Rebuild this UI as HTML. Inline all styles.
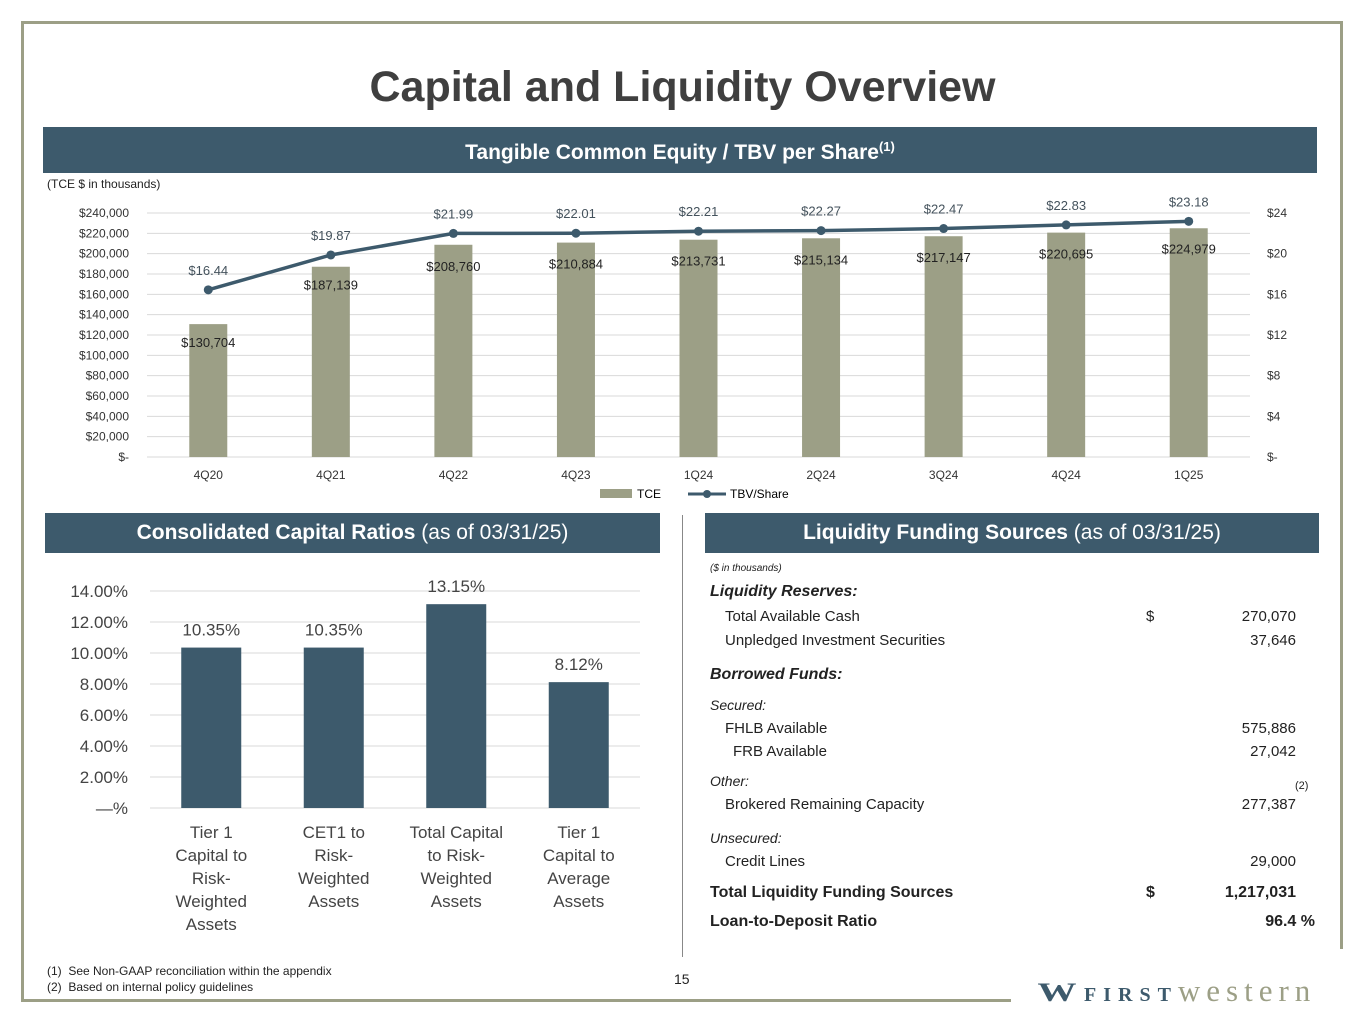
<!DOCTYPE html>
<html><head><meta charset="utf-8"><style>
body{margin:0;width:1365px;height:1024px;background:#fff;position:relative;overflow:hidden;font-family:"Liberation Sans",sans-serif;color:#222}
.a{position:absolute}
.hdr{position:absolute;background:#3d5a6c;color:#fff;font-size:21px;text-align:center;font-weight:bold;line-height:40px}
.hdr span{font-weight:normal}
.r{position:absolute;font-size:15px;white-space:nowrap}
.v{position:absolute;font-size:15px;text-align:right;width:150px;left:1146px}
</style></head><body>
<div class="a" style="left:21px;top:21px;width:1322px;height:3px;background:#9c9f86"></div>
<div class="a" style="left:21px;top:21px;width:3px;height:981px;background:#9c9f86"></div>
<div class="a" style="left:1340px;top:21px;width:3px;height:928px;background:#9c9f86"></div>
<div class="a" style="left:21px;top:999px;width:990px;height:3px;background:#9c9f86"></div>
<div class="a" style="left:0;width:1365px;top:63px;text-align:center;font-size:43px;font-weight:bold;color:#3f3f3f">Capital and Liquidity Overview</div>
<div class="hdr" style="left:43px;top:127px;width:1274px">Tangible Common Equity / TBV per Share<sup style="font-size:13px">(1)</sup></div>
<div class="a" style="left:47px;top:177px;font-size:12px">(TCE $ in thousands)</div>
<svg class="a" style="left:0;top:190px" width="1365" height="320" id="top"></svg>
<div class="hdr" style="left:45px;top:513px;width:615px">Consolidated Capital Ratios <span>(as of 03/31/25)</span></div>
<div class="hdr" style="left:705px;top:513px;width:614px">Liquidity Funding Sources <span>(as of 03/31/25)</span></div>
<div class="a" style="left:682px;top:515px;width:1px;height:442px;background:#888"></div>
<svg class="a" style="left:0;top:570px" width="680" height="380" id="bot"></svg>
<div class="a" style="left:710px;top:563px;font-size:10px;font-style:italic">($ in thousands)</div>
<div class="r" style="left:710px;top:583px;font-weight:bold;font-style:italic;font-size:16px">Liquidity Reserves:</div>
<div class="r" style="left:725px;top:608px">Total Available Cash</div>
<div class="r" style="left:1146px;top:608px">$</div>
<div class="v" style="top:608px">270,070</div>
<div class="r" style="left:725px;top:632px">Unpledged Investment Securities</div>
<div class="v" style="top:632px">37,646</div>
<div class="r" style="left:710px;top:666px;font-weight:bold;font-style:italic;font-size:16px">Borrowed Funds:</div>
<div class="r" style="left:710px;top:697px;font-style:italic;font-size:14px">Secured:</div>
<div class="r" style="left:725px;top:720px">FHLB Available</div>
<div class="v" style="top:720px">575,886</div>
<div class="r" style="left:733px;top:743px">FRB Available</div>
<div class="v" style="top:743px">27,042</div>
<div class="r" style="left:710px;top:773px;font-style:italic;font-size:14px">Other:</div>
<div class="r" style="left:1295px;top:780px;font-size:11px">(2)</div>
<div class="r" style="left:725px;top:796px">Brokered Remaining Capacity</div>
<div class="v" style="top:796px">277,387</div>
<div class="r" style="left:710px;top:830px;font-style:italic;font-size:14px">Unsecured:</div>
<div class="r" style="left:725px;top:853px">Credit Lines</div>
<div class="v" style="top:853px">29,000</div>
<div class="r" style="left:710px;top:884px;font-weight:bold;font-size:16px">Total Liquidity Funding Sources</div>
<div class="r" style="left:1146px;top:884px;font-weight:bold;font-size:16px">$</div>
<div class="v" style="top:884px;font-weight:bold;font-size:16px">1,217,031</div>
<div class="r" style="left:710px;top:913px;font-weight:bold;font-size:16px">Loan-to-Deposit Ratio</div>
<div class="v" style="top:913px;font-weight:bold;font-size:16px;left:1165px">96.4 %</div>
<div class="a" style="left:47px;top:963px;font-size:12px;line-height:16px">(1)&nbsp; See Non-GAAP reconciliation within the appendix<br>(2)&nbsp; Based on internal policy guidelines</div>
<div class="a" style="left:674px;top:971px;font-size:14px">15</div>
<div class="a" style="left:1038px;top:974px;white-space:nowrap;line-height:34px">
<span style="color:#3d5a6c;font-size:26px;font-weight:bold;font-family:'Liberation Serif',serif;display:inline-block;transform:scaleX(1.5);margin-right:14px;margin-left:6px">W</span><span style="color:#3d5a6c;font-size:20px;font-weight:bold;font-family:'Liberation Serif',serif;letter-spacing:7px">FIRST</span><span style="color:#9c9f86;font-size:31px;font-family:'Liberation Serif',serif;letter-spacing:6px">western</span></div>
<script>
const cats=["4Q20","4Q21","4Q22","4Q23","1Q24","2Q24","3Q24","4Q24","1Q25"];
const tce=[130704,187139,208760,210884,213731,215134,217147,220695,224979];
const tbv=[16.44,19.87,21.99,22.01,22.21,22.27,22.47,22.83,23.18];
const leftTicks=[0,20000,40000,60000,80000,100000,120000,140000,160000,180000,200000,220000,240000];
const rightTicks=[0,4,8,12,16,20,24];
const ratioCats=[["Tier 1","Capital to","Risk-","Weighted","Assets"],["CET1 to","Risk-","Weighted","Assets"],["Total Capital","to Risk-","Weighted","Assets"],["Tier 1","Capital to","Average","Assets"]];
const ratios=[10.35,10.35,13.15,8.12];
const ratioTicks=[0,2,4,6,8,10,12,14];
const NS="http://www.w3.org/2000/svg";
function mk(p,t,a,txt){const e=document.createElementNS(NS,t);for(const k in a)e.setAttribute(k,a[k]);if(txt!==undefined)e.textContent=txt;p.appendChild(e);return e;}
const fmt=n=>"$"+n.toLocaleString("en-US");
const T=document.getElementById("top");
const y0=267,y1=23,xL=147,xR=1250;
const yL=v=>y0-(v/240000)*(y0-y1), yR=v=>y0-(v/24)*(y0-y1);
const step=(xR-xL)/cats.length, xc=i=>xL+step*(i+0.5);
leftTicks.forEach(t=>{
 const g=mk(T,"line",{x1:xL,x2:xR,y1:yL(t),y2:yL(t),stroke:"#d9d9d9"});
 
 
 const l=mk(T,"text",{x:129,y:yL(t)+4,"text-anchor":"end","font-size":12,fill:"#333"},t?fmt(t):"$-");
 
 
});
rightTicks.forEach(t=>{
 const l=mk(T,"text",{x:1267,y:yR(t)+4,"font-size":12,fill:"#333"},t?"$"+t:"$-");
 
 
});
cats.forEach((c,i)=>{
 const b=mk(T,"rect",{x:xc(i)-19,y:yL(tce[i]),width:38,height:y0-yL(tce[i]),fill:"#9c9f86"});
 
 
 const l=mk(T,"text",{x:xc(i),y:yL(tce[i])+ (i<2?23:(i===8?25:26)),"text-anchor":"middle","font-size":13,fill:"#222"},fmt(tce[i]));
 
 
 const x=mk(T,"text",{x:xc(i),y:289,"text-anchor":"middle","font-size":12,fill:"#333"},c);
 
 
});
const pl=mk(T,"polyline",{points:tbv.map((v,i)=>xc(i)+","+yR(v)).join(" "),fill:"none",stroke:"#3d5a6c","stroke-width":3.5});


tbv.forEach((v,i)=>{
 const c=mk(T,"circle",{cx:xc(i),cy:yR(v),r:4.5,fill:"#3d5a6c"});
 
 
 const l=mk(T,"text",{x:xc(i),y:yR(v)-15,"text-anchor":"middle","font-size":13,fill:"#44525c"},"$"+v.toFixed(2));
 
 
});
const lg1=mk(T,"rect",{x:600,y:299,width:32,height:9,fill:"#9c9f86"});


mk(T,"text",{x:637,y:308,"font-size":12},"TCE");
const lg2=mk(T,"line",{x1:688,x2:726,y1:304,y2:304,stroke:"#3d5a6c","stroke-width":3});


mk(T,"circle",{cx:707,cy:304,r:4,fill:"#3d5a6c"});
mk(T,"text",{x:730,y:308,"font-size":12},"TBV/Share");
const B=document.getElementById("bot");
const b0=238,b1=21,bxL=150,bxR=640;
const yb=v=>b0-(v/14)*(b0-b1);
const bs=(bxR-bxL)/ratios.length, bx=i=>bxL+bs*(i+0.5);
ratioTicks.forEach(t=>{
 const g=mk(B,"line",{x1:bxL,x2:bxR,y1:yb(t),y2:yb(t),stroke:"#d9d9d9"});
 
 
 const l=mk(B,"text",{x:128,y:yb(t)+6,"text-anchor":"end","font-size":17,fill:"#444"},t?t.toFixed(2)+"%":"—%");
 
 
});
ratios.forEach((v,i)=>{
 const b=mk(B,"rect",{x:bx(i)-30,y:yb(v),width:60,height:b0-yb(v),fill:"#3d5a6c"});
 
 
 const l=mk(B,"text",{x:bx(i),y:yb(v)-12,"text-anchor":"middle","font-size":17,fill:"#444"},v.toFixed(2)+"%");
 
 
 ratioCats[i].forEach((s,k)=>{
  const t=mk(B,"text",{x:bx(i),y:268+k*23,"text-anchor":"middle","font-size":17,fill:"#444"},s);
  
  
 });
});
</script>
</body></html>
